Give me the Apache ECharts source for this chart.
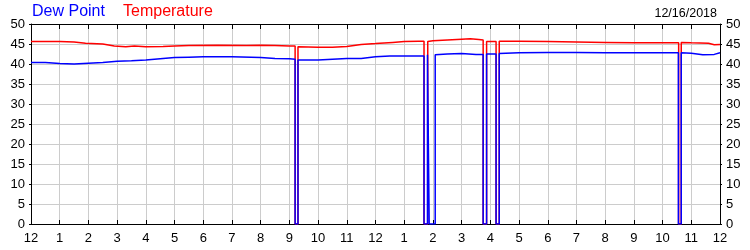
<!DOCTYPE html>
<html>
<head>
<meta charset="utf-8">
<script src="https://cdn.jsdelivr.net/npm/echarts@6/dist/echarts.min.js"></script>
<style>
html,body{margin:0;padding:0;background:#fff;}
#chart{width:750px;height:250px;}
</style>
</head>
<body>
<div id="chart"></div>
<script>
// Hours since midnight (12/16/2018)
var hourTicks = [0,1,2,3,4,5,6,7,8,9,10,11,12,13,14,15,16,17,18,19,20,21,22,23,24];
var hourLabels = ['12','1','2','3','4','5','6','7','8','9','10','11','12','1','2','3','4','5','6','7','8','9','10','11','12'];

var tempHours = [0,1.0,1.5,1.9,2.5,2.9,3.3,3.6,4.0,4.6,5.0,5.5,6.5,7.5,8.0,8.5,9.0,9.2,9.2,9.3,9.3,10.0,10.5,11.0,11.5,12.0,12.6,13.0,13.5,13.69,13.69,13.82,13.82,14.0,14.5,15.0,15.3,15.6,15.75,15.75,15.87,15.87,16.2,16.2,16.31,16.31,17.0,18.0,19.0,20.0,21.0,22.0,22.56,22.56,22.65,22.65,23.0,23.6,23.8,24];
var tempValues = [45.6,45.6,45.5,45.2,45.0,44.5,44.3,44.5,44.3,44.4,44.5,44.6,44.7,44.6,44.7,44.6,44.5,44.5,0,0,44.3,44.2,44.2,44.4,44.9,45.1,45.4,45.6,45.7,45.7,0,0,45.6,45.8,46.0,46.2,46.3,46.1,46.0,0,0,45.6,45.6,0,0,45.7,45.7,45.6,45.5,45.4,45.3,45.3,45.3,0,0,45.4,45.3,45.2,44.8,44.9];

var dewHours = [0,0.5,1.0,1.5,2.0,2.5,3.0,3.5,4.0,4.5,5.0,5.5,6.0,7.0,8.0,8.5,9.0,9.2,9.2,9.3,9.3,10.0,10.5,11.0,11.5,12.0,12.5,13.0,13.69,13.69,13.81,13.81,13.87,13.87,14.08,14.08,14.5,15.0,15.5,15.75,15.75,15.87,15.87,16.2,16.2,16.31,16.31,17.0,18.0,19.0,20.0,21.0,22.0,22.55,22.55,22.65,22.65,23.0,23.4,23.8,24];
var dewValues = [40.4,40.4,40.1,40.0,40.2,40.4,40.7,40.8,41.0,41.3,41.6,41.7,41.8,41.8,41.6,41.4,41.3,41.2,0,0,41.0,41.0,41.2,41.4,41.4,41.8,42.0,42.0,42.0,0,0,42.3,42.3,0,0,42.3,42.5,42.6,42.4,42.4,0,0,42.5,42.5,0,0,42.6,42.8,42.9,42.9,42.8,42.8,42.8,42.8,0,0,42.8,42.7,42.3,42.4,42.8];

var yTicks = [0,5,10,15,20,25,30,35,40,45,50];

function zip(a,b){ var r=[]; for(var i=0;i<a.length;i++) r.push([a[i],b[i]]); return r; }

var FONT = '"Liberation Sans", Arial, sans-serif';
var chart = echarts.init(document.getElementById('chart'), null, {renderer:'canvas'});
var labelStyle = {color:'#000', fontFamily:FONT, fontSize:13};

chart.setOption({
  animation:false,
  backgroundColor:'#fff',
  title:[
    {text:'Dew Point', left:32, top:4, padding:0, textStyle:{color:'#0000ff', fontFamily:FONT, fontSize:16, fontWeight:'normal'}},
    {text:'Temperature', left:123, top:4, padding:0, textStyle:{color:'#ff0000', fontFamily:FONT, fontSize:16, fontWeight:'normal'}},
    {text:'12/16/2018', right:33, top:7, padding:0, textStyle:{color:'#000', fontFamily:FONT, fontSize:12.5, fontWeight:'normal'}}
  ],
  grid:{left:31, right:30, top:24, bottom:26, containLabel:false},
  xAxis:[
    {type:'value', min:hourTicks[0], max:hourTicks[hourTicks.length-1], interval:1, position:'bottom',
     axisLine:{show:true, onZero:false, lineStyle:{color:'#000', width:1}},
     axisTick:{show:true, inside:true, length:4, lineStyle:{color:'#000'}},
     axisLabel:Object.assign({margin:8, formatter:function(v){ return hourLabels[hourTicks.indexOf(v)]; }}, labelStyle),
     splitLine:{show:true, lineStyle:{color:'#cccccc', width:1}}},
    {type:'value', min:0, max:24, interval:1, position:'top',
     axisLine:{show:true, onZero:false, lineStyle:{color:'#000', width:1}},
     axisTick:{show:true, inside:true, length:5, lineStyle:{color:'#000'}},
     axisLabel:{show:false}, splitLine:{show:false}}
  ],
  yAxis:[
    {type:'value', min:yTicks[0], max:yTicks[yTicks.length-1], interval:5, position:'left',
     axisLine:{show:true, onZero:false, lineStyle:{color:'#000'}},
     axisTick:{show:true, length:2, lineStyle:{color:'#000'}},
     axisLabel:Object.assign({margin:6}, labelStyle),
     splitLine:{show:true, lineStyle:{color:'#cccccc', width:1}}},
    {type:'value', min:0, max:50, interval:5, position:'right',
     axisLine:{show:true, onZero:false, lineStyle:{color:'#000'}},
     axisTick:{show:true, length:2, lineStyle:{color:'#000'}},
     axisLabel:Object.assign({margin:6}, labelStyle),
     splitLine:{show:false}}
  ],
  series:[
    {name:'Temperature', type:'line', xAxisIndex:0, yAxisIndex:0, showSymbol:false, symbol:'none',
     data:zip(tempHours,tempValues), lineStyle:{color:'#ff0000', width:1.5}, itemStyle:{color:'#ff0000'}},
    {name:'Dew Point', type:'line', xAxisIndex:0, yAxisIndex:0, showSymbol:false, symbol:'none',
     data:zip(dewHours,dewValues), lineStyle:{color:'#0000ff', width:1.5}, itemStyle:{color:'#0000ff'}}
  ]
});
</script>
</body>
</html>
